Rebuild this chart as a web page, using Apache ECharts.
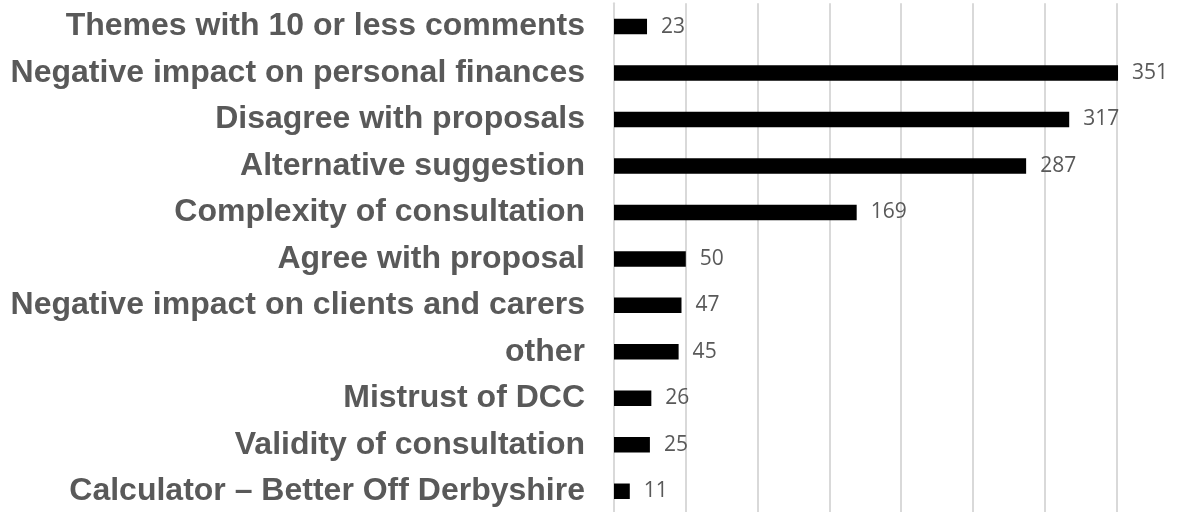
<!DOCTYPE html>
<html>
<head>
<meta charset="utf-8">
<script src="https://cdn.jsdelivr.net/npm/echarts@6/dist/echarts.min.js"></script>
<style>
  html, body { margin: 0; padding: 0; background: #ffffff; }
  #chart { width: 1182px; height: 512px; }
</style>
</head>
<body>
<div id="chart"></div>
<script>
// Comment themes and how many comments fell under each
const themes = [
  'Themes with 10 or less comments',
  'Negative impact on personal finances',
  'Disagree with proposals',
  'Alternative suggestion',
  'Complexity of consultation',
  'Agree with proposal',
  'Negative impact on clients and carers',
  'other',
  'Mistrust of DCC',
  'Validity of consultation',
  'Calculator \u2013 Better Off Derbyshire'
];
const commentCounts = [23, 351, 317, 287, 169, 50, 47, 45, 26, 25, 11];

// Value axis range (gridlines every 50, no tick labels shown)
const axisMin = 0;
const axisMax = 400;
const axisStep = 50;

const chart = echarts.init(document.getElementById('chart'), null, { renderer: 'canvas' });

chart.setOption({
  animation: false,
  backgroundColor: '#ffffff',
  grid: {
    left: 614,
    top: 3.3,
    width: 574.4,
    height: 511.2,
    containLabel: false,
    outerBoundsMode: 'none'
  },
  xAxis: {
    type: 'value',
    min: axisMin,
    max: axisMax,
    interval: axisStep,
    axisLine: { show: false },
    axisTick: { show: false },
    axisLabel: { show: false },
    splitLine: { show: true, lineStyle: { color: '#d9d9d9', width: 2 } }
  },
  yAxis: {
    type: 'category',
    inverse: true,
    data: themes,
    axisLine: { show: true, lineStyle: { color: '#d9d9d9', width: 2 } },
    axisTick: { show: false },
    axisLabel: {
      margin: 29,
      color: '#595959',
      fontFamily: '"Liberation Sans", Arial, sans-serif',
      fontWeight: 'bold',
      fontSize: 32
    }
  },
  series: [{
    type: 'bar',
    data: commentCounts,
    barWidth: 15.5,
    itemStyle: { color: '#000000' },
    label: {
      show: true,
      position: 'right',
      distance: 14,
      color: '#595959',
      fontFamily: '"Open Sans", sans-serif',
      fontSize: 21
    }
  }]
});
</script>
</body>
</html>
